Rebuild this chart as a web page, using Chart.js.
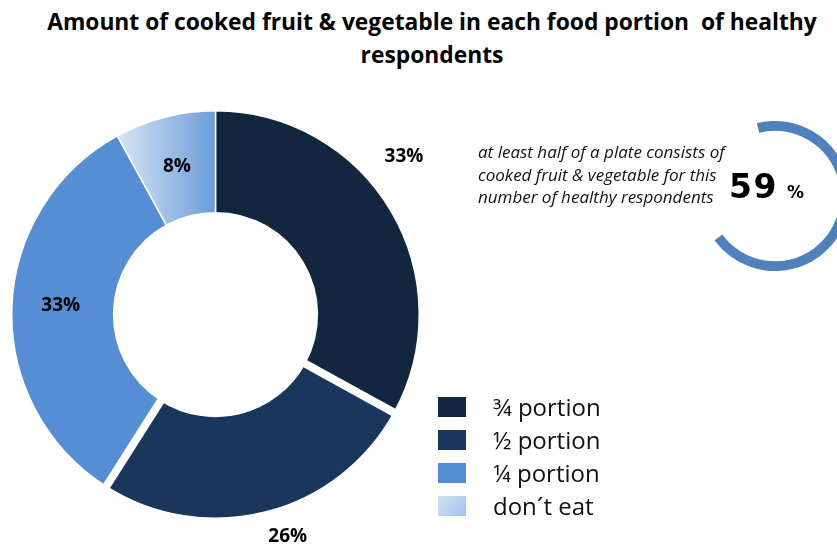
<!DOCTYPE html>
<html>
<head>
<meta charset="utf-8">
<script src="https://cdn.jsdelivr.net/npm/chart.js@4/dist/chart.umd.min.js"></script>
<style>
  html, body { margin: 0; padding: 0; background: #fff; }
  body { width: 837px; height: 547px; position: relative; overflow: hidden; }
  #title {
    position: absolute; left: 0; top: 5px; width: 864px;
    text-align: center; white-space: pre;
    font: bold 22.8px "Open Sans", sans-serif; line-height: 33px; color: #000;
  }
  #pie { position: absolute; left: 11px; top: 110px; }
  #gauge { position: absolute; left: 700px; top: 121px; }
  #note {
    position: absolute; left: 478px; top: 141px;
    font: italic 17px "Open Sans", sans-serif; line-height: 22.5px; color: #111; white-space: pre;
  }
  #big {
    position: absolute; left: 729px; top: 167px; white-space: pre;
    font-family: "DejaVu Sans", sans-serif; font-weight: bold; color: #000;
  }
  #big .num { font-size: 33px; letter-spacing: 1.5px; }
  #big .pct { font-size: 17px; margin-left: 9px; }
  #legend { position: absolute; left: 438px; top: 390px; }
  .row { display: flex; align-items: center; height: 33px; }
  .sw { width: 28px; height: 20px; margin-right: 27px; }
  .lab { font: 24px "Open Sans", sans-serif; color: #111; }
</style>
</head>
<body>
<div id="title"></div>
<canvas id="pie" width="439" height="439"></canvas>
<canvas id="gauge" width="150" height="150"></canvas>
<div id="note"></div>
<div id="big"><span class="num"></span><span class="pct">%</span></div>
<div id="legend"></div>
<script>
// share of respondents by amount of cooked fruit & veg per portion
const titleLines = ["Amount of cooked fruit & vegetable in each food portion  of healthy", "respondents"];
const portions = ["¾ portion", "½ portion", "¼ portion", "don´t eat"];
const shares = [33, 26, 33, 8];
// slice pulled apart from its neighbours with a wide white seam
const highlighted = [false, true, false, false];

// the "at least half a plate" figure
const halfPlate = 59;
const noteLines = ["at least half of a plate consists of", "cooked fruit & vegetable for this", "number of healthy respondents"];

const sliceColors = ["#13263f", "#1b365d", "#558ed5", null];
const lightFrom = "#d3e2f4";
const lightTo = "#6b9bd9";

// label placement: fraction of outer radius, then nudge in px
const labelRadius = [1.2, 1.13, 0.76, 0.76];
const labelShiftX = [-22, 15, 0, 0];
const labelShiftY = [-33, -1, -4, 2];

document.querySelector("#title").textContent = titleLines.join("\n");
document.querySelector("#note").textContent = noteLines.join("\n");
document.querySelector("#big .num").textContent = halfPlate;

function lightGradient(chart) {
  const area = chart.chartArea;
  if (!area) return lightTo;
  const cx = (area.left + area.right) / 2;
  const r = Math.min(area.right - area.left, area.bottom - area.top) / 2;
  const g = chart.ctx.createLinearGradient(cx - r * 0.46, 0, cx, 0);
  g.addColorStop(0, lightFrom);
  g.addColorStop(1, lightTo);
  return g;
}

// white seams along both edges of the highlighted slice
const seams = {
  id: "seams",
  afterDatasetsDraw(chart) {
    const ctx = chart.ctx;
    const meta = chart.getDatasetMeta(0);
    ctx.save();
    ctx.strokeStyle = "#fff";
    ctx.lineWidth = 8;
    meta.data.forEach((arc, i) => {
      if (!highlighted[i]) return;
      const p = arc.getProps(["x", "y", "startAngle", "endAngle", "innerRadius", "outerRadius"], true);
      [p.startAngle, p.endAngle].forEach((a) => {
        ctx.beginPath();
        ctx.moveTo(p.x + Math.cos(a) * (p.innerRadius - 2), p.y + Math.sin(a) * (p.innerRadius - 2));
        ctx.lineTo(p.x + Math.cos(a) * (p.outerRadius + 2), p.y + Math.sin(a) * (p.outerRadius + 2));
        ctx.stroke();
      });
    });
    ctx.restore();
  }
};

const percentLabels = {
  id: "percentLabels",
  afterDatasetsDraw(chart) {
    const ctx = chart.ctx;
    const meta = chart.getDatasetMeta(0);
    ctx.save();
    ctx.font = "bold 19px 'Open Sans', sans-serif";
    ctx.fillStyle = "#000";
    ctx.textAlign = "center";
    ctx.textBaseline = "middle";
    meta.data.forEach((arc, i) => {
      const p = arc.getProps(["x", "y", "startAngle", "endAngle", "outerRadius"], true);
      const mid = (p.startAngle + p.endAngle) / 2;
      const r = p.outerRadius * labelRadius[i];
      const x = p.x + Math.cos(mid) * r + labelShiftX[i];
      const y = p.y + Math.sin(mid) * r + labelShiftY[i];
      ctx.fillText(shares[i] + "%", x, y);
    });
    ctx.restore();
  }
};

new Chart(document.querySelector("#pie"), {
  type: "doughnut",
  data: {
    labels: portions,
    datasets: [{
      data: shares,
      backgroundColor: (c) => sliceColors[c.dataIndex] || lightGradient(c.chart),
      borderColor: "#fff",
      borderWidth: 1.5,
      hoverOffset: 0
    }]
  },
  options: {
    responsive: false,
    animation: false,
    cutout: "50%",
    layout: { padding: { right: 30, bottom: 30 } },
    plugins: { legend: { display: false }, tooltip: { enabled: false } }
  },
  plugins: [seams, percentLabels]
});

// gauge ring for the 59 %
new Chart(document.querySelector("#gauge"), {
  type: "doughnut",
  data: {
    labels: ["half plate or more", "rest"],
    datasets: [{
      data: [halfPlate, 100 - halfPlate],
      backgroundColor: ["#4f81bd", "rgba(0,0,0,0)"],
      borderWidth: 0,
      hoverOffset: 0
    }]
  },
  options: {
    responsive: false,
    animation: false,
    rotation: -14,
    circumference: 420,
    cutout: "87%",
    plugins: { legend: { display: false }, tooltip: { enabled: false } }
  }
});

// legend
const legend = document.querySelector("#legend");
portions.forEach((name, i) => {
  const row = document.createElement("div");
  row.className = "row";
  const sw = document.createElement("div");
  sw.className = "sw";
  sw.style.background = sliceColors[i] || "linear-gradient(135deg, " + lightFrom + ", #a3c1ef)";
  const lab = document.createElement("span");
  lab.className = "lab";
  lab.textContent = name;
  row.appendChild(sw);
  row.appendChild(lab);
  legend.appendChild(row);
});
</script>
</body>
</html>
